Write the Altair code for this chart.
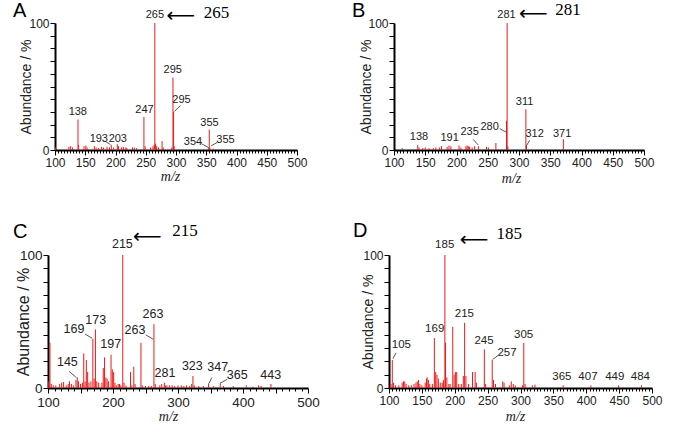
import altair as alt
import pandas as pd

RED = "#ee1a1a"

# ---------------- Panel A ----------------
A_mz = [101, 123, 126, 129, 138, 139, 148, 151, 153, 165, 168, 172, 177, 180, 186, 190, 193, 197,
        203, 205, 210, 213, 217, 219, 228, 231, 235, 247, 249, 258, 262, 264, 265, 266, 268, 271,
        277, 279, 293, 295, 296, 297, 354, 355, 356, 362]
A_ab = [2, 2.5, 3, 2, 24, 4, 3, 3.5, 2, 3, 2, 1.5, 2.5, 2, 2.5, 2, 4, 2,
        4.5, 3, 2, 2.5, 2, 1.5, 2, 2, 1.5, 26, 3, 2, 3, 4, 100, 5, 3, 2,
        7, 2, 2, 57, 30, 3, 1.5, 16, 2, 1]
A_lab_text = ["265", "295", "295", "247", "138", "355", "193", "203", "354", "355"]
A_lab_mz = [265, 294.7, 309, 248, 137.7, 355.4, 172.4, 203.8, 328, 381.8]
A_lab_ab = [102, 59, 35.7, 27.7, 25.6, 17.6, 5, 5, 2.4, 4.3]
A_lead_mz1 = [297.5, 182.3, 342, 358]
A_lead_ab1 = [30.4, 7, 5, 3.2]
A_lead_mz2 = [307.4, 191.7, 354, 368]
A_lead_ab2 = [35, 4.3, 1.9, 5.9]
A_note = ["265"]; A_note_mz = [367]; A_note_ab = [108]
A_arrow_mz = [308]; A_arrow_ab = [105.6]

# ---------------- Panel B ----------------
B_mz = [113, 138, 140, 146, 150, 156, 163, 167, 173, 176, 185, 188, 191, 204, 207, 215, 217, 219,
        221, 225, 229, 235, 248, 251, 263, 280, 281, 282, 311, 312, 371]
B_ab = [1.5, 4, 2, 1.5, 2, 1.5, 1.5, 2, 2, 3, 2.5, 3.5, 3, 3.5, 2, 3, 3.5, 3,
        2.5, 2, 3, 3, 2.5, 2, 5.5, 23, 100, 3, 32, 3, 8.5]
B_lab_text = ["281", "311", "371", "138", "191", "235", "280", "312"]
B_lab_mz = [280, 309, 369, 140, 189, 221, 253, 325]
B_lab_ab = [102, 34, 9, 6.5, 5.8, 10, 14.4, 9]
B_lead_mz1 = [226.6, 269, 317]
B_lead_ab1 = [8.4, 16.8, 7.6]
B_lead_mz2 = [234.6, 280, 311]
B_lead_ab2 = [4, 14, 2.6]
B_note = ["281"]; B_note_mz = [378.4]; B_note_ab = [110]
B_arrow_mz = [323]; B_arrow_ab = [107]

# ---------------- Panel C ----------------
C_mz = [101, 103, 105, 108, 112, 118, 121, 124, 128, 131, 133, 136, 139, 143, 145, 147, 150, 153,
        155, 157, 159, 161, 163, 166, 169, 171, 173, 175, 178, 183, 185, 187, 189, 191, 193, 197,
        199, 201, 203, 205, 208, 210, 212, 215, 217, 220, 227, 229, 232, 234, 243, 245, 250, 255,
        259, 263, 265, 272, 275, 279, 281, 283, 287, 291, 295, 300, 305, 309, 313, 318, 321, 323,
        325, 332, 339, 347, 355, 365, 370, 385, 405, 415, 424, 428, 443]
C_ab = [5, 34, 3, 2, 2, 3, 4, 4.5, 2, 3, 5, 3, 2, 6, 8, 5, 3, 4,
        26, 5, 21, 12, 4, 5, 37, 7, 44, 5, 4, 4, 15, 23, 8, 7, 5, 25,
        14, 12, 4, 2, 3, 3, 2, 100, 4, 2, 12, 2, 16, 3, 34, 2, 1.5, 1.5,
        1.5, 48, 3, 2, 3, 4, 2, 2, 2, 2, 1.5, 2, 2, 1.5, 2, 1.5, 3, 9,
        2, 1.5, 1.5, 3.5, 1.5, 3.5, 1.5, 1.5, 2, 1, 2, 1.5, 3]
C_lab_text = ["215", "263", "263", "173", "169", "197", "145", "281", "323", "347", "365", "443"]
C_lab_mz = [214.4, 261.6, 233.9, 173.4, 140, 196.5, 129.8, 280, 322, 361, 391, 442.6]
C_lab_ab = [102.8, 50.6, 38.4, 46, 39, 27.7, 14.5, 6, 11.2, 10.4, 4.8, 4.8]
C_lead_mz1 = [250.3, 157, 132.3, 352, 364.6]
C_lead_ab1 = [40, 40.5, 12.5, 7.9, 3.5]
C_lead_mz2 = [262, 168, 143.6, 347.7, 375.9]
C_lead_ab2 = [36.6, 37.4, 7.9, 3.5, 6.6]
C_note = ["215"]; C_note_mz = [310.8]; C_note_ab = [118]
C_arrow_mz = [253]; C_arrow_ab = [113.7]

# ---------------- Panel D ----------------
D_mz = [103, 105, 107, 110, 115, 120, 122, 124, 126, 130, 134, 138, 141, 143, 145, 147, 150, 155,
        157, 158, 160, 162, 166, 169, 171, 173, 175, 178, 181, 183, 185, 186, 188, 191, 193, 197,
        199, 201, 203, 206, 210, 213, 215, 217, 221, 227, 231, 233, 245, 247, 257, 259, 262, 273,
        275, 283, 286, 289, 292, 303, 305, 307, 318, 322, 365, 407, 449, 484]
D_ab = [3, 21, 4, 2, 2, 4, 5, 5, 3, 2, 2, 3, 4, 5, 6, 3, 2, 4,
        7, 8, 6, 3, 3, 37.5, 12, 10, 7, 4, 4, 6, 100, 34, 8, 3, 3, 46,
        10, 12, 12, 3, 3, 9, 49, 9, 3, 12, 12, 4, 29, 3, 21, 6, 3, 5,
        4, 2, 5, 3, 2, 2, 34, 3, 2, 2.5, 2, 2, 2, 2]
D_lab_text = ["185", "169", "215", "245", "305", "105", "257", "365", "407", "449", "484"]
D_lab_mz = [184.7, 169.5, 214.6, 244.5, 304.8, 118.8, 279.5, 363, 402.6, 443.3, 482.3]
D_lab_ab = [103.5, 40.5, 51.6, 31.4, 36.3, 28.6, 22.5, 4.7, 4.7, 4.7, 4.7]
D_lead_mz1 = [110.7, 257.7]
D_lead_ab1 = [26.4, 21.5]
D_lead_mz2 = [106, 265.8]
D_lead_ab2 = [22, 24.4]
D_note = ["185"]; D_note_mz = [282.7]; D_note_ab = [115.8]
D_arrow_mz = [229.5]; D_arrow_ab = [111]


def panel(letter, mz, ab, lt, lmz, lab, m1, a1, m2, a2, note, nmz, nab, amz, aab,
          width, height, x0, yoff, letter_x, letter_y, ytitle_x, xtitle_x, xtitle_y,
          tick_font, lab_font, title_font, minor_step, label_step, major_step):
    xs = alt.Scale(domain=[100, 500], range=[x0, width], nice=False, zero=False)
    ys = alt.Scale(domain=[0, 100], nice=False, zero=False)
    xax = alt.Axis(
        values=list(range(100, 501, minor_step)),
        labelExpr=f"datum.value % {label_step} === 0 ? datum.label : ''",
        tickSize={"condition": {"test": f"datum.value % {major_step} === 0", "value": 5}, "value": 3},
        labelOverlap=False, labelFlush=False, grid=False,
        domainColor="black", domainWidth=2, tickColor="black", tickWidth=1,
        labelFont="Liberation Sans", labelFontSize=tick_font, labelColor="#222", labelPadding=2,
        title="m/z", titleFont="Liberation Serif", titleFontStyle="italic", titleFontWeight="normal",
        titleFontSize=14, titleColor="#222", titleX=xtitle_x, titleY=xtitle_y,
        titleBaseline="middle", titleAlign="center",
    )
    yax = alt.Axis(
        values=list(range(0, 101, 10)),
        labelExpr="datum.value === 0 || datum.value === 100 ? datum.label : ''",
        tickSize=5, labelOverlap=False, labelFlush=False, grid=False, offset=yoff,
        domainColor="black", domainWidth=2, tickColor="black", tickWidth=1,
        labelFont="Liberation Sans", labelFontSize=tick_font, labelColor="#222", labelPadding=1,
        title="Abundance / %", titleFont="Liberation Sans", titleFontWeight="normal",
        titleFontSize=title_font, titleColor="#222", titleX=ytitle_x, titleY=height / 2,
        titleBaseline="middle", titleAlign="center", titleAngle=270,
    )
    X = lambda f: alt.X(f, scale=xs, axis=xax)
    Y = lambda f: alt.Y(f, scale=ys, axis=yax)
    pk = pd.DataFrame({"mz": mz, "ab": ab})
    bars = alt.Chart(pk).mark_rule(color=RED, strokeWidth=1).encode(
        x=X("mz:Q"), y=Y("ab:Q"), y2=alt.datum(0),
    )
    ld = pd.DataFrame({"mz": lmz, "ab": lab, "t": lt})
    labels = alt.Chart(ld).mark_text(baseline="bottom", align="center", fontSize=lab_font,
                                     font="Liberation Sans", color="#222").encode(
        x=X("mz:Q"), y=Y("ab:Q"), text="t:N",
    )
    lead = pd.DataFrame({"mz": m1, "ab": a1, "mz2": m2, "ab2": a2})
    leaders = alt.Chart(lead).mark_rule(color="#444", strokeWidth=0.9).encode(
        x=X("mz:Q"), y=Y("ab:Q"), x2="mz2:Q", y2="ab2:Q",
    )
    nd = pd.DataFrame({"mz": nmz, "ab": nab, "t": note})
    notes = alt.Chart(nd).mark_text(baseline="middle", align="center", fontSize=17,
                                    font="Liberation Serif", color="black").encode(
        x=X("mz:Q"), y=Y("ab:Q"), text="t:N",
    )
    ad = pd.DataFrame({"mz": amz, "ab": aab, "t": ["\u27f5"]})
    arrows = alt.Chart(ad).mark_text(baseline="middle", align="center", fontSize=20,
                                     font="DejaVu Sans", color="black").encode(
        x=X("mz:Q"), y=Y("ab:Q"), text="t:N",
    )
    let = alt.Chart(pd.DataFrame({"t": [letter]})).mark_text(
        align="left", baseline="alphabetic", fontSize=20, font="Liberation Sans", color="black"
    ).encode(x=alt.value(letter_x), y=alt.value(letter_y), text="t:N")
    return alt.layer(bars, leaders, labels, notes, arrows, let).properties(width=width, height=height)


pA = panel("A", A_mz, A_ab, A_lab_text, A_lab_mz, A_lab_ab, A_lead_mz1, A_lead_ab1, A_lead_mz2, A_lead_ab2,
           A_note, A_note_mz, A_note_ab, A_arrow_mz, A_arrow_ab,
           width=249, height=127, x0=7, yoff=-7, letter_x=-35, letter_y=-6,
           ytitle_x=-29, xtitle_x=122, xtitle_y=26, tick_font=12, lab_font=11, title_font=14,
           minor_step=5, label_step=50, major_step=50)
pB = panel("B", B_mz, B_ab, B_lab_text, B_lab_mz, B_lab_ab, B_lead_mz1, B_lead_ab1, B_lead_mz2, B_lead_ab2,
           B_note, B_note_mz, B_note_ab, B_arrow_mz, B_arrow_ab,
           width=255, height=127, x0=5, yoff=-5, letter_x=-37, letter_y=-6,
           ytitle_x=-28, xtitle_x=122, xtitle_y=28, tick_font=12, lab_font=11, title_font=14,
           minor_step=5, label_step=50, major_step=50)
pC = panel("C", C_mz, C_ab, C_lab_text, C_lab_mz, C_lab_ab, C_lead_mz1, C_lead_ab1, C_lead_mz2, C_lead_ab2,
           C_note, C_note_mz, C_note_ab, C_arrow_mz, C_arrow_ab,
           width=260, height=133, x0=0, yoff=0, letter_x=-35, letter_y=-17,
           ytitle_x=-25, xtitle_x=120, xtitle_y=28, tick_font=13.5, lab_font=12.5, title_font=16,
           minor_step=10, label_step=100, major_step=50)
pD = panel("D", D_mz, D_ab, D_lab_text, D_lab_mz, D_lab_ab, D_lead_mz1, D_lead_ab1, D_lead_mz2, D_lead_ab2,
           D_note, D_note_mz, D_note_ab, D_arrow_mz, D_arrow_ab,
           width=263, height=133, x0=0, yoff=0, letter_x=-36, letter_y=-18,
           ytitle_x=-21, xtitle_x=126, xtitle_y=28, tick_font=12, lab_font=11.5, title_font=14,
           minor_step=5, label_step=50, major_step=50)

chart = alt.concat(pA, pB, pC, pD, columns=2, spacing={"row": 105, "column": 81},
                   bounds="flush").properties(
    padding={"left": 13, "top": 1, "right": 0, "bottom": 0},
    background="white",
).configure_view(stroke=None)

chart.save("out.html", embed_options={"renderer": "svg", "actions": False})
